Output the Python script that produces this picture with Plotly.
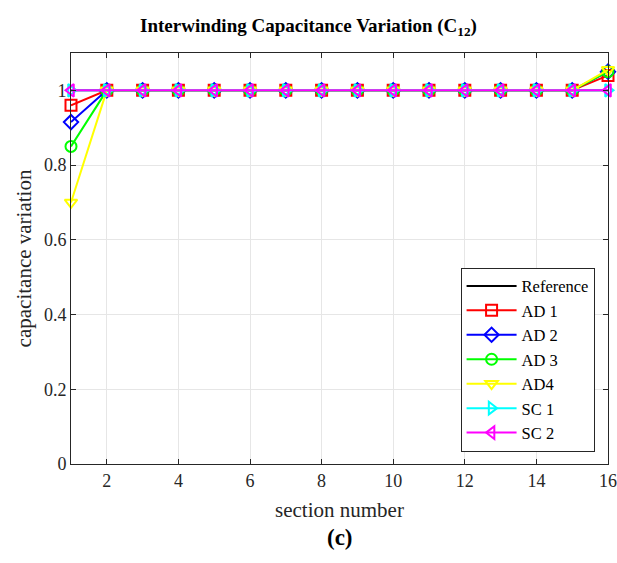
import plotly.graph_objects as go

sections = list(range(1, 17))
reference = [1.0] * 16
ad1 = [0.96] + [1.0] * 14 + [1.04]
ad2 = [0.915] + [1.0] * 14 + [1.05]
ad3 = [0.85] + [1.0] * 14 + [1.05]
ad4 = [0.70] + [1.0] * 14 + [1.055]
sc1 = [1.0] * 16
sc2 = [1.0] * 16

series = [
    ("Reference", reference, "black", None),
    ("AD 1", ad1, "#ff0000", "square-open"),
    ("AD 2", ad2, "#0000ff", "diamond-open"),
    ("AD 3", ad3, "#00ff00", "circle-open"),
    ("AD4", ad4, "#ffff00", "triangle-down-open"),
    ("SC 1", sc1, "#00ffff", "triangle-right-open"),
    ("SC 2", sc2, "#ff00ff", "triangle-left-open"),
]

fig = go.Figure()
for name, vals, color, sym in series:
    if sym is None:
        fig.add_trace(go.Scatter(x=sections, y=vals, name=name, mode="lines",
                                 cliponaxis=False,
                                 line=dict(color=color, width=2)))
    else:
        fig.add_trace(go.Scatter(x=sections, y=vals, name=name, mode="lines+markers",
                                 cliponaxis=False,
                                 line=dict(color=color, width=2),
                                 marker=dict(symbol=sym, size=11, color=color,
                                             line=dict(width=2, color=color))))

font = "Liberation Serif"
fig.update_layout(
    width=617, height=563,
    margin=dict(l=71, r=9, t=53, b=99),
    paper_bgcolor="white", plot_bgcolor="white",
    font=dict(family=font, size=18, color="#262626"),
    title=dict(text="<b>Interwinding Capacitance Variation (C<sub>12</sub>)</b>",
               x=0.5, xanchor="center", y=0.955, yanchor="middle",
               font=dict(family=font, size=19, color="black")),
    showlegend=True,
    legend=dict(x=0.975, y=0.03, xanchor="right", yanchor="bottom",
                bgcolor="white", bordercolor="#262626", borderwidth=1,
                font=dict(family=font, size=16.5, color="black"),
                tracegroupgap=0, itemwidth=50),
    xaxis=dict(range=[1, 16], tickvals=[2, 4, 6, 8, 10, 12, 14, 16],
               ticks="inside", ticklen=5, tickcolor="#262626",
               showline=True, linecolor="#262626", linewidth=1, mirror="ticks",
               showgrid=True, gridcolor="#e6e6e6", zeroline=False,
               automargin=False, ticklabeloverflow="allow",
               title=dict(text="section number", font=dict(family=font, size=21),
                          standoff=12)),
    yaxis=dict(range=[0, 1.1], tickvals=[0, 0.2, 0.4, 0.6, 0.8, 1],
               ticktext=["0", "0.2", "0.4", "0.6", "0.8", "1"],
               ticks="inside", ticklen=5, tickcolor="#262626",
               showline=True, linecolor="#262626", linewidth=1, mirror="ticks",
               showgrid=True, gridcolor="#e6e6e6", zeroline=False,
               automargin=False,
               title=dict(text="capacitance variation", font=dict(family=font, size=21),
                          standoff=6)),
)

fig.add_annotation(text="<b>(c)</b>", xref="paper", yref="paper", x=0.5, y=-0.18,
                   xanchor="center", yanchor="middle", showarrow=False,
                   font=dict(family=font, size=23, color="black"))

fig.write_html("out.html", config={"displayModeBar": False},
               post_script="document.body.style.margin='0';")
